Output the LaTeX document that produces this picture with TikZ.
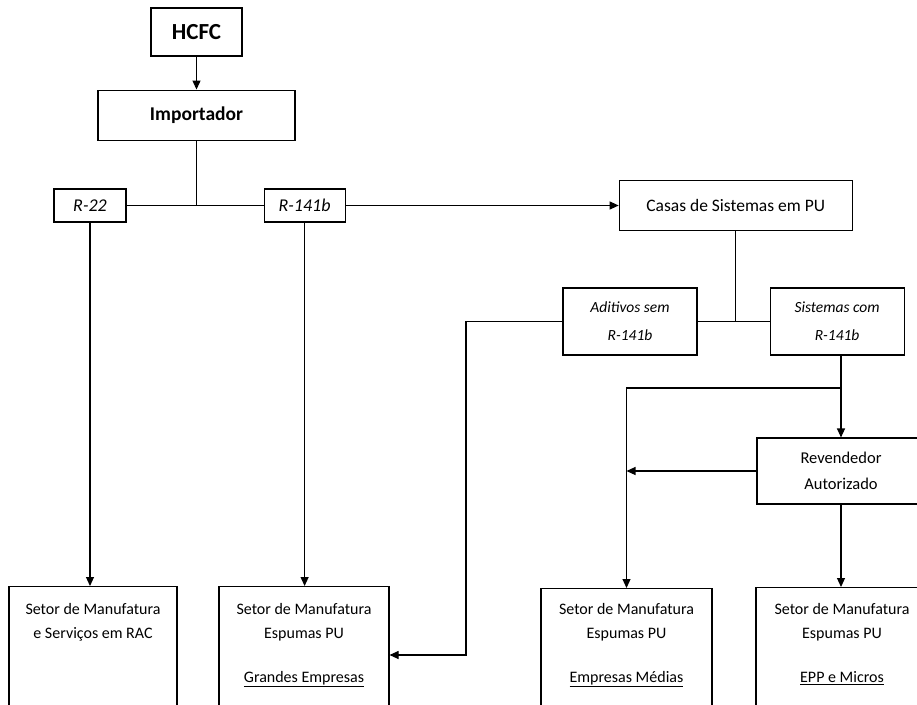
\documentclass[tikz,border=0pt]{standalone}
\usepackage{fontspec}
\setmainfont{Carlito}
\usepackage{tikz}
\usetikzlibrary{positioning,arrows.meta}

\begin{document}
\begin{tikzpicture}[
    x=1pt, y=-1pt, line width=1.1pt,
    box/.style = {draw, align=center, font=\fontsize{16.5}{26}\selectfont},
    bigbox/.style = {draw, align=center, font=\bfseries},
    gasbox/.style = {draw, minimum height=33pt, font=\fontsize{18}{20}\selectfont\itshape},
    subbox/.style = {draw, minimum width=134pt, minimum height=67pt, align=center, font=\fontsize{15.5}{28}\selectfont\itshape},
    lowbox/.style = {draw, anchor=north, align=center, inner sep=0pt, text depth=100pt, font=\fontsize{16}{24}\selectfont},
    > = {Triangle[length=9pt, width=8pt]}
]
\clip (0,0) rectangle (917,704);
\node (hcfc) [bigbox, minimum width=91pt, minimum height=48pt, font=\fontsize{23}{24}\selectfont\bfseries] at (196.5,32) {HCFC};
\node (imp) [bigbox, minimum width=197pt, minimum height=50pt, below=33pt of hcfc, font=\fontsize{19.5}{22}\selectfont\bfseries] {Importador};
\node (r22) [gasbox, minimum width=72pt] at (90,205.5) {R-22};
\node (r141) [gasbox, minimum width=81pt, right=137pt of r22] {R-141b};
\node (casas) [box, minimum width=233pt, minimum height=50pt, right=273pt of r141, font=\fontsize{17.5}{20}\selectfont] {Casas de Sistemas em PU};
\node (adit) [subbox] at (630,321.5) {Aditivos sem\\ R-141b};
\node (sist) [subbox, right=72pt of adit] {Sistemas com\\ R-141b};
\node (revend) [box, minimum width=168pt, minimum height=66pt] at (841,471) {Revendedor\\ Autorizado};
\node (rac) [lowbox, minimum width=168pt, text height=52pt] at (93,586) {Setor de Manufatura\\ e Serviços em RAC};
\node (grandes) [lowbox, minimum width=170pt, text height=96pt] at (304,586) {Setor de Manufatura\\ Espumas PU\\[20pt] \underline{Grandes Empresas}};
\node (medias) [lowbox, minimum width=171pt, text height=94pt] at (626.5,588) {Setor de Manufatura\\ Espumas PU\\[20pt] \underline{Empresas Médias}};
\node (epp) [lowbox, minimum width=172pt, text height=95pt] at (842,587) {Setor de Manufatura\\ Espumas PU\\[20pt] \underline{EPP e Micros}};

\coordinate (split) at (revend.north |- 0,388);

\draw[->] (hcfc) to (imp);
\draw[-] (imp.south) to (imp.south |- r22.center);
\draw[-] (r22) to (r141);
\draw[->] (r141) to (casas);
\draw[->] (r22) to (r22 |- rac.north);
\draw[->] (r141) to (r141 |- grandes.north);
\draw[-] (casas.south) to (casas.south |- adit.center);
\draw[-] (adit) to (sist);
\draw[->] (adit.west) -- (466,321.5) |- ([yshift=-69pt]grandes.north east);
\draw[->] (revend.north |- sist.south) to (revend.north);
\draw[->] (split) -| (medias.north);
\draw[->] (revend.west) to (medias.north |- revend.west);
\draw[->] (revend.south) to (revend.south |- epp.north);
\end{tikzpicture}
\end{document}
